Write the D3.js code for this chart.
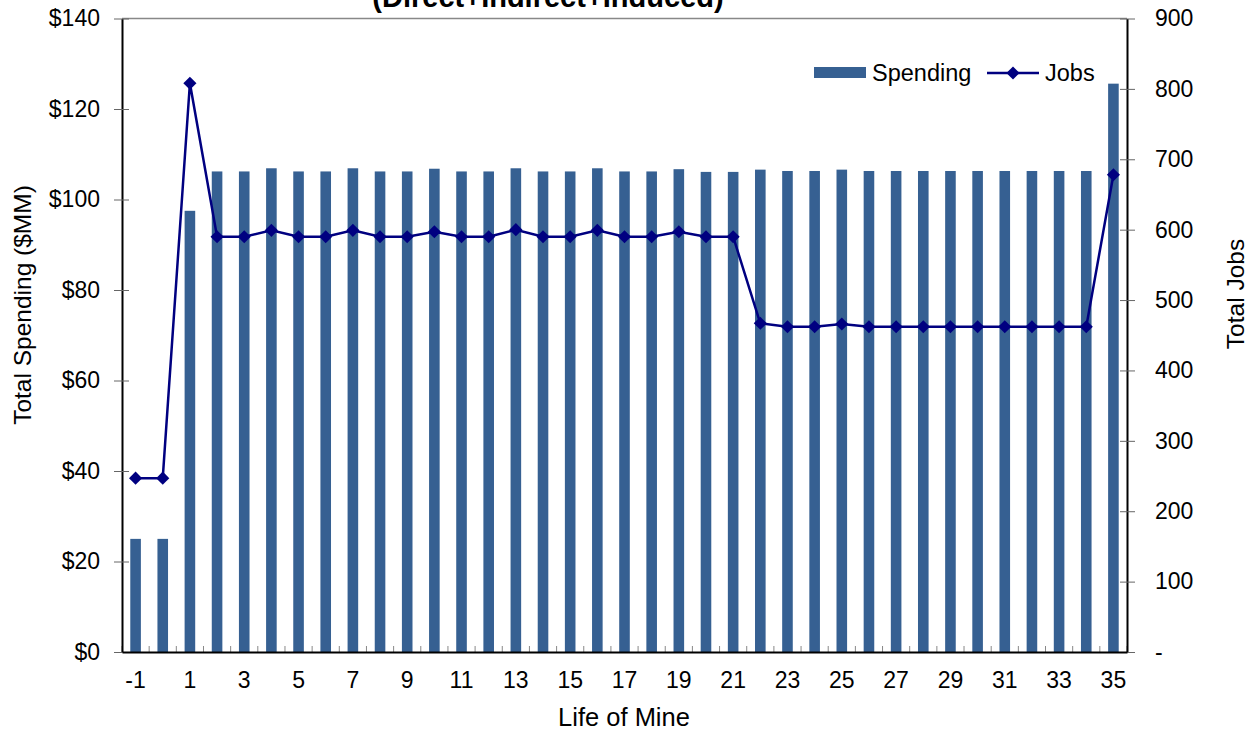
<!DOCTYPE html>
<html>
<head>
<meta charset="utf-8">
<script src="https://cdn.jsdelivr.net/npm/d3@7"></script>
<style>
  html, body { margin: 0; padding: 0; background: #fff; }
  svg { display: block; font-family: "Liberation Sans", Arial, sans-serif; }
</style>
</head>
<body>
<svg id="chart" width="1250" height="730"></svg>
<script>
const years = [-1,0,1,2,3,4,5,6,7,8,9,10,11,12,13,14,15,16,17,18,19,20,21,22,23,24,25,26,27,28,29,30,31,32,33,34,35];
const spending = [25,25,97.5,106.2,106.2,106.9,106.2,106.2,106.9,106.2,106.2,106.8,106.2,106.2,106.9,106.2,106.2,106.9,106.2,106.2,106.7,106.1,106.1,106.6,106.3,106.3,106.6,106.3,106.3,106.3,106.3,106.3,106.3,106.3,106.3,106.3,125.6];
const jobs = [247,247,808,590,590,599,590,590,599,590,590,597,590,590,600,590,590,599,590,590,597,590,590,467,462,462,466,462,462,462,462,462,462,462,462,462,678];
const leftTicks = [0,20,40,60,80,100,120,140];
const rightTicks = [0,100,200,300,400,500,600,700,800,900];
const xLabelYears = [-1,1,3,5,7,9,11,13,15,17,19,21,23,25,27,29,31,33,35];

const svg = d3.select("#chart");
const L = 122, R = 1127, T = 18.5, B = 652;
const barColor = "#366092", lineColor = "#000080";
const FONT = "Liberation Sans, Arial, sans-serif";

const x = d3.scaleBand().domain(years).range([L, R]).padding(0);
const yL = d3.scaleLinear().domain([0, 140]).range([B, T]);
const yR = d3.scaleLinear().domain([0, 900]).range([B, T]);
const bw = x.bandwidth();
const barW = bw * 0.39;

// Title (clipped at top, as in the reference)
svg.append("text").attr("x", 548).attr("y", 7).attr("text-anchor", "middle")
  .attr("font-size", 29).attr("font-weight", "bold").attr("fill", "#000")
  .text("(Direct+Indirect+Induced)");

// top border
svg.append("line").attr("x1", L).attr("x2", R).attr("y1", T).attr("y2", T)
  .attr("stroke", "#888").attr("stroke-width", 1.5);

// bars
svg.append("g").selectAll("rect").data(years).join("rect")
  .attr("x", (d) => x(d) + (bw - barW) / 2)
  .attr("width", barW)
  .attr("y", (d, i) => yL(spending[i]))
  .attr("height", (d, i) => B - yL(spending[i]))
  .attr("fill", barColor);

// bottom ticks (inside, at category boundaries)
const bticks = years.map(d => x(d)).concat([R]);
svg.append("g").selectAll("line").data(bticks).join("line")
  .attr("x1", d => d).attr("x2", d => d).attr("y1", B - 6).attr("y2", B)
  .attr("stroke", "#888").attr("stroke-width", 1);

// left axis
const gL = svg.append("g").attr("transform", `translate(${L},0)`)
  .call(d3.axisLeft(yL).tickValues(leftTicks).tickSize(0).tickPadding(22).tickFormat(d => "$" + d));
gL.select(".domain").attr("stroke", "#000").attr("stroke-width", 2);
gL.selectAll("text").attr("font-size", 23).attr("fill", "#000").attr("font-family", FONT);
gL.selectAll(".tick").append("line").attr("x1", -8).attr("x2", 7).attr("stroke", "#666").attr("stroke-width", 1);

// right axis
const gR = svg.append("g").attr("transform", `translate(${R},0)`)
  .call(d3.axisRight(yR).tickValues(rightTicks).tickSize(0).tickPadding(28).tickFormat(d => d === 0 ? "-" : d));
gR.select(".domain").attr("stroke", "#000").attr("stroke-width", 2);
gR.selectAll("text").attr("font-size", 23).attr("fill", "#000").attr("font-family", FONT);
gR.selectAll(".tick").append("line").attr("x1", -7).attr("x2", 8).attr("stroke", "#666").attr("stroke-width", 1);

// bottom axis
const gB = svg.append("g").attr("transform", `translate(0,${B})`)
  .call(d3.axisBottom(x).tickValues(xLabelYears).tickSize(0).tickPadding(20));
gB.select(".domain").attr("stroke", "#000").attr("stroke-width", 2);
gB.selectAll("text").attr("font-size", 23).attr("fill", "#000").attr("font-family", FONT);

// jobs line
const line = d3.line().x((d, i) => x(years[i]) + bw / 2).y(d => yR(d));
svg.append("path").datum(jobs).attr("d", line).attr("fill", "none")
  .attr("stroke", lineColor).attr("stroke-width", 2.5);
const diamond = d3.symbol().type(d3.symbolDiamond2).size(110);
svg.append("g").selectAll("path").data(jobs).join("path")
  .attr("d", diamond)
  .attr("transform", (d, i) => `translate(${x(years[i]) + bw / 2},${yR(d)})`)
  .attr("fill", lineColor);

// axis titles
svg.append("text").attr("x", 624).attr("y", 726).attr("text-anchor", "middle")
  .attr("font-size", 25.5).text("Life of Mine");
svg.append("text").attr("transform", "translate(31,305) rotate(-90)").attr("text-anchor", "middle")
  .attr("font-size", 24.5).text("Total Spending ($MM)");
svg.append("text").attr("transform", "translate(1244,294) rotate(-90)").attr("text-anchor", "middle")
  .attr("font-size", 24.5).text("Total Jobs");

// legend
const lg = svg.append("g");
lg.append("rect").attr("x", 814).attr("y", 67).attr("width", 52).attr("height", 11).attr("fill", barColor);
lg.append("text").attr("x", 872).attr("y", 81).attr("font-size", 23.5).text("Spending");
lg.append("line").attr("x1", 987).attr("x2", 1039).attr("y1", 73).attr("y2", 73).attr("stroke", lineColor).attr("stroke-width", 2.5);
lg.append("path").attr("d", diamond).attr("transform", "translate(1013,73)").attr("fill", lineColor);
lg.append("text").attr("x", 1045).attr("y", 81).attr("font-size", 23.5).text("Jobs");
</script>
</body>
</html>
